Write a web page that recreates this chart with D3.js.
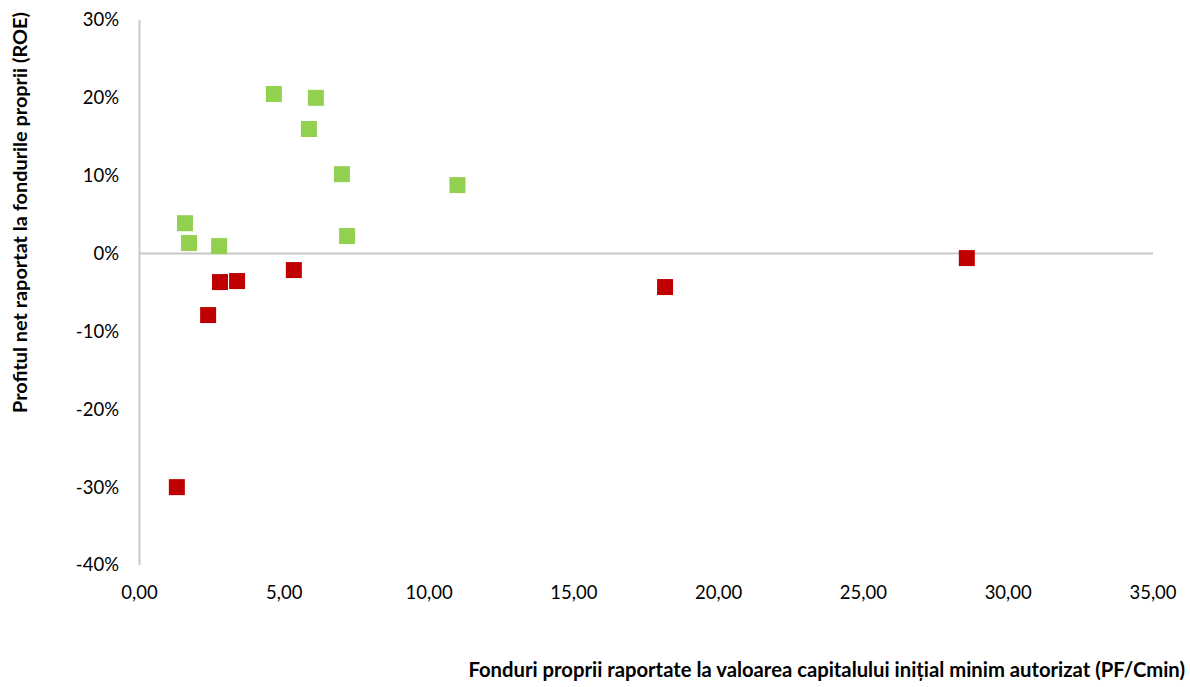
<!DOCTYPE html>
<html>
<head>
<meta charset="utf-8">
<script src="https://cdn.jsdelivr.net/npm/d3@7"></script>
<style>
  html, body { margin: 0; padding: 0; background: #fff; }
  svg { display: block; font-family: Lato, "Open Sans", sans-serif; }
</style>
</head>
<body>
<svg id="chart" width="1190" height="687"></svg>
<script>
// Banks with positive ROE: [PF/Cmin, ROE %]
const positiveX = [4.64, 6.09, 5.85, 6.99, 10.98, 1.57, 1.71, 2.75, 7.17];
const positiveY = [20.5, 20.0, 16.0, 10.2, 8.8, 3.9, 1.35, 0.96, 2.25];
// Banks with negative ROE
const negativeX = [5.33, 2.78, 3.37, 2.37, 1.29, 18.15, 28.57];
const negativeY = [-2.12, -3.66, -3.53, -7.9, -30.0, -4.3, -0.58];

const xTicks = [0, 5, 10, 15, 20, 25, 30, 35];
const yTicks = [30, 20, 10, 0, -10, -20, -30, -40];

const xTitle = "Fonduri proprii raportate la valoarea capitalului inițial minim autorizat (PF/Cmin)";
const yTitle = "Profitul net raportat la fondurile proprii (ROE)";

const svg = d3.select("#chart");
const plotLeft = 139.5, plotRight = 1153, plotTop = 20, plotBottom = 565;

const x = d3.scaleLinear().domain([0, 35]).range([plotLeft, plotRight]);
const y = d3.scaleLinear().domain([-40, 30]).range([plotBottom, plotTop]);

const fmtX = v => d3.format(".2f")(v).replace(".", ",");
const fmtY = v => v + "%";

// vertical axis line (at x = 0)
svg.append("line")
  .attr("x1", x(0)).attr("x2", x(0))
  .attr("y1", y(30)).attr("y2", y(-40))
  .attr("stroke", "#c8c8c8").attr("stroke-width", 2);

// horizontal axis line at y = 0
svg.append("line")
  .attr("x1", x(0)).attr("x2", x(35))
  .attr("y1", y(0)).attr("y2", y(0))
  .attr("stroke", "#c8c8c8").attr("stroke-width", 2);

// y tick labels
svg.append("g").selectAll("text").data(yTicks).join("text")
  .attr("x", 119).attr("y", d => y(d))
  .attr("dy", "0.35em")
  .attr("text-anchor", "end")
  .attr("font-size", 18.5).attr("fill", "#000")
  .text(fmtY);

// x tick labels
svg.append("g").selectAll("text").data(xTicks).join("text")
  .attr("x", d => x(d)).attr("y", 593)
  .attr("dy", "0.35em")
  .attr("text-anchor", "middle")
  .attr("font-size", 18.5).attr("fill", "#000")
  .text(fmtX);

const size = 16;
function drawSquares(xs, ys, color) {
  svg.append("g").selectAll("rect").data(xs.map((v, i) => [v, ys[i]])).join("rect")
    .attr("x", d => x(d[0]) - size / 2)
    .attr("y", d => y(d[1]) - size / 2)
    .attr("width", size).attr("height", size)
    .attr("fill", color);
}
drawSquares(positiveX, positiveY, "#92d050");
drawSquares(negativeX, negativeY, "#c00000");

// scale a title's font so that it spans the given width
function fitFont(sel, width) {
  const base = 20;
  sel.attr("font-size", base);
  const len = sel.node().getComputedTextLength();
  sel.attr("font-size", base * width / len);
}

// axis titles
const xt = svg.append("text")
  .attr("x", 1185).attr("y", 670).attr("dy", "0.35em")
  .attr("text-anchor", "end")
  .attr("font-weight", "bold")
  .text(xTitle);
fitFont(xt, 717);

const yt = svg.append("text")
  .attr("transform", "translate(20,212.5) rotate(-90)")
  .attr("dy", "0.35em")
  .attr("text-anchor", "middle")
  .attr("font-weight", "bold")
  .text(yTitle);
fitFont(yt, 401);
</script>
</body>
</html>
